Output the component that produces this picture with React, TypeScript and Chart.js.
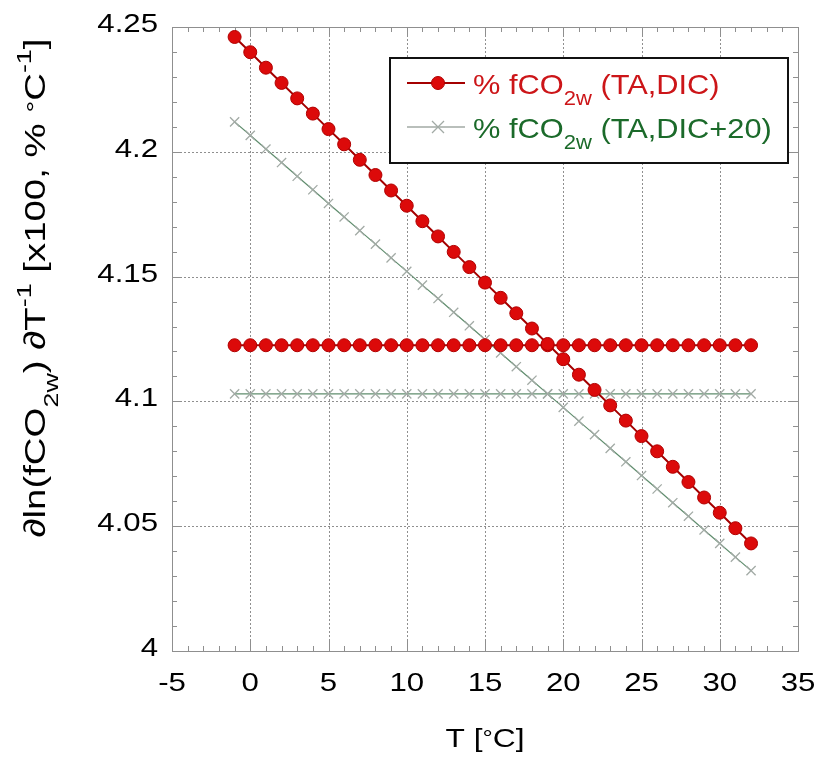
import React, { useEffect, useRef } from 'react';
import { Chart, registerables } from 'chart.js';

Chart.register(...registerables);

// ---- data ----
const temps = [-1, 0, 1, 2, 3, 4, 5, 6, 7, 8, 9, 10, 11, 12, 13, 14, 15, 16, 17, 18, 19, 20, 21, 22, 23, 24, 25, 26, 27, 28, 29, 30, 31, 32];

const fco2TaDic = [4.2460, 4.2399, 4.2337, 4.2276, 4.2214, 4.2153, 4.2091, 4.2030, 4.1968, 4.1907, 4.1845, 4.1784, 4.1722, 4.1661, 4.1599, 4.1538, 4.1476, 4.1415, 4.1353, 4.1292, 4.1230, 4.1169, 4.1107, 4.1046, 4.0984, 4.0923, 4.0861, 4.0800, 4.0738, 4.0677, 4.0615, 4.0554, 4.0492, 4.0431];

const fco2TaDicMean = [4.1225, 4.1225, 4.1225, 4.1225, 4.1225, 4.1225, 4.1225, 4.1225, 4.1225, 4.1225, 4.1225, 4.1225, 4.1225, 4.1225, 4.1225, 4.1225, 4.1225, 4.1225, 4.1225, 4.1225, 4.1225, 4.1225, 4.1225, 4.1225, 4.1225, 4.1225, 4.1225, 4.1225, 4.1225, 4.1225, 4.1225, 4.1225, 4.1225, 4.1225];

const fco2TaDic20 = [4.2120, 4.2066, 4.2011, 4.1957, 4.1902, 4.1848, 4.1793, 4.1739, 4.1684, 4.1630, 4.1575, 4.1521, 4.1466, 4.1412, 4.1357, 4.1303, 4.1248, 4.1194, 4.1139, 4.1085, 4.1030, 4.0976, 4.0921, 4.0867, 4.0812, 4.0758, 4.0703, 4.0649, 4.0594, 4.0540, 4.0485, 4.0431, 4.0376, 4.0322];

const fco2TaDic20Mean = [4.1030, 4.1030, 4.1030, 4.1030, 4.1030, 4.1030, 4.1030, 4.1030, 4.1030, 4.1030, 4.1030, 4.1030, 4.1030, 4.1030, 4.1030, 4.1030, 4.1030, 4.1030, 4.1030, 4.1030, 4.1030, 4.1030, 4.1030, 4.1030, 4.1030, 4.1030, 4.1030, 4.1030, 4.1030, 4.1030, 4.1030, 4.1030, 4.1030, 4.1030];

const xTicks = [-5, 0, 5, 10, 15, 20, 25, 30, 35];
const yTicks = [4, 4.05, 4.1, 4.15, 4.2, 4.25];
const xTickLabels = ['-5', '0', '5', '10', '15', '20', '25', '30', '35'];
const yTickLabels = ['4', '4.05', '4.1', '4.15', '4.2', '4.25'];

const FONT = '"Liberation Sans", Arial, Helvetica, sans-serif';
const RED_MARK = '#dc0a0a';
const RED_EDGE = '#b00000';
const RED_LINE = '#a40000';
const RED_TEXT = '#cc1518';
const GREEN_LINE = '#5f8d6d';
const GREEN_MARK = '#a2aaa5';
const GREEN_TEXT = '#1b6a2a';
const AXIS = '#8f8f8f';

type Seg = { t: string; size: number; dy: number };

function drawRich(
  ctx: CanvasRenderingContext2D,
  segs: Seg[],
  x: number,
  y: number,
  align: 'left' | 'center' | 'right',
  color: string,
  sx: number,
) {
  ctx.save();
  ctx.fillStyle = color;
  ctx.textBaseline = 'alphabetic';
  ctx.textAlign = 'left';
  let total = 0;
  const widths = segs.map((s) => {
    ctx.font = `${s.size}px ${FONT}`;
    const w = ctx.measureText(s.t).width;
    total += w;
    return w;
  });
  ctx.translate(x, y);
  ctx.scale(sx, 1);
  let cx = align === 'center' ? -total / 2 : align === 'right' ? -total : 0;
  segs.forEach((s, i) => {
    ctx.font = `${s.size}px ${FONT}`;
    ctx.fillText(s.t, cx, s.dy);
    cx += widths[i];
  });
  ctx.restore();
}

const framePlugin = {
  id: 'frame',
  beforeDatasetsDraw(chart: any) {
    const { ctx, chartArea } = chart;
    const xs = chart.scales.x;
    const ys = chart.scales.y;
    const { left, right, top, bottom } = chartArea;
    ctx.save();
    // dotted grid
    ctx.strokeStyle = '#8f8f8f';
    ctx.lineWidth = 1;
    ctx.setLineDash([2, 2]);
    xTicks.forEach((v) => {
      if (v === xTicks[0] || v === xTicks[xTicks.length - 1]) return;
      const px = Math.round(xs.getPixelForValue(v)) + 0.5;
      ctx.beginPath();
      ctx.moveTo(px, top);
      ctx.lineTo(px, bottom);
      ctx.stroke();
    });
    yTicks.forEach((v) => {
      if (v === yTicks[0] || v === yTicks[yTicks.length - 1]) return;
      const py = Math.round(ys.getPixelForValue(v)) + 0.5;
      ctx.beginPath();
      ctx.moveTo(left, py);
      ctx.lineTo(right, py);
      ctx.stroke();
    });
    ctx.setLineDash([]);
    // ticks
    ctx.strokeStyle = AXIS;
    ctx.lineWidth = 1;
    for (let i = -5; i <= 35; i++) {
      const major = i % 5 === 0;
      const len = major ? 10 : 5;
      const px = Math.round(xs.getPixelForValue(i)) + 0.5;
      ctx.beginPath();
      ctx.moveTo(px, bottom);
      ctx.lineTo(px, bottom - len);
      ctx.moveTo(px, top);
      ctx.lineTo(px, top + len);
      ctx.stroke();
    }
    for (let i = 0; i <= 25; i++) {
      const major = i % 5 === 0;
      const len = major ? 10 : 5;
      const py = Math.round(ys.getPixelForValue(4 + i * 0.01)) + 0.5;
      ctx.beginPath();
      ctx.moveTo(left, py);
      ctx.lineTo(left + len, py);
      ctx.moveTo(right, py);
      ctx.lineTo(right - len, py);
      ctx.stroke();
    }
    // frame
    ctx.strokeRect(Math.round(left) + 0.5, Math.round(top) + 0.5, Math.round(right - left), Math.round(bottom - top));
    ctx.restore();

    // tick labels
    xTicks.forEach((v, i) => {
      drawRich(ctx, [{ t: xTickLabels[i], size: 26, dy: 0 }], xs.getPixelForValue(v), 691, 'center', '#000', 1.2);
    });
    yTicks.forEach((v, i) => {
      drawRich(ctx, [{ t: yTickLabels[i], size: 26, dy: 0 }], 158, ys.getPixelForValue(v) + 5, 'right', '#000', 1.2);
    });
  },
  afterDatasetsDraw(chart: any) {
    const { ctx } = chart;
    ctx.save();
    // legend box
    const bx = 390, by = 58, bw = 398, bh = 105;
    ctx.fillStyle = '#ffffff';
    ctx.fillRect(bx, by, bw, bh);
    ctx.strokeStyle = '#111';
    ctx.lineWidth = 2;
    ctx.strokeRect(bx, by, bw, bh);
    // row 1
    const r1 = 83;
    ctx.strokeStyle = RED_LINE;
    ctx.lineWidth = 2;
    ctx.beginPath();
    ctx.moveTo(407, r1);
    ctx.lineTo(465, r1);
    ctx.stroke();
    ctx.fillStyle = RED_MARK;
    ctx.strokeStyle = RED_EDGE;
    ctx.lineWidth = 1;
    ctx.beginPath();
    ctx.arc(438, r1, 6.5, 0, Math.PI * 2);
    ctx.fill();
    ctx.stroke();
    drawRich(ctx, [
      { t: '% fCO', size: 28, dy: 0 },
      { t: '2w', size: 20, dy: 11 },
      { t: ' (TA,DIC)', size: 28, dy: 0 },
    ], 473, 94, 'left', RED_TEXT, 1.1);
    // row 2
    const r2 = 127;
    ctx.strokeStyle = GREEN_MARK;
    ctx.lineWidth = 1.5;
    ctx.beginPath();
    ctx.moveTo(407, r2);
    ctx.lineTo(465, r2);
    ctx.stroke();
    ctx.strokeStyle = GREEN_MARK;
    ctx.lineWidth = 1.3;
    ctx.beginPath();
    ctx.moveTo(432, r2 - 6);
    ctx.lineTo(444, r2 + 6);
    ctx.moveTo(432, r2 + 6);
    ctx.lineTo(444, r2 - 6);
    ctx.stroke();
    drawRich(ctx, [
      { t: '% fCO', size: 28, dy: 0 },
      { t: '2w', size: 20, dy: 11 },
      { t: ' (TA,DIC+20)', size: 28, dy: 0 },
    ], 473, 138, 'left', GREEN_TEXT, 1.1);
    ctx.restore();
  },
  afterDraw(chart: any) {
    const { ctx, chartArea } = chart;
    // x title
    drawRich(ctx, [
      { t: 'T [', size: 26, dy: 0 },
      { t: '°', size: 21, dy: -2 },
      { t: 'C]', size: 26, dy: 0 },
    ], (chartArea.left + chartArea.right) / 2, 747, 'center', '#000', 1.22);
    // y title
    ctx.save();
    ctx.translate(45, 288);
    ctx.rotate(-Math.PI / 2);
    drawRich(ctx, [
      { t: '∂ln(fCO', size: 30, dy: 0 },
      { t: '2w', size: 21, dy: 13 },
      { t: ') ∂T', size: 30, dy: 0 },
      { t: '-1', size: 21, dy: -14 },
      { t: ' [x100, % ', size: 30, dy: 0 },
      { t: '°', size: 23, dy: -2 },
      { t: 'C', size: 30, dy: 0 },
      { t: '-1', size: 21, dy: -14 },
      { t: ']', size: 30, dy: 0 },
    ], 0, 0, 'center', '#000', 1.28);
    ctx.restore();
  },
};

export default function App() {
  const ref = useRef<HTMLCanvasElement>(null);
  useEffect(() => {
    const canvas = ref.current;
    if (!canvas) return;
    const pts = (ys: number[]) => temps.map((x, i) => ({ x, y: ys[i] }));
    const chart = new Chart(canvas, {
      type: 'scatter',
      data: {
        datasets: [
          {
            label: '% fCO2w (TA,DIC)',
            data: pts(fco2TaDic),
            showLine: true,
            borderColor: RED_LINE,
            borderWidth: 2,
            pointRadius: 6.5,
            pointBackgroundColor: RED_MARK,
            pointBorderColor: RED_EDGE,
            pointBorderWidth: 1,
          },
          {
            label: '% fCO2w (TA,DIC) mean',
            data: pts(fco2TaDicMean),
            showLine: true,
            borderColor: RED_LINE,
            borderWidth: 2,
            pointRadius: 6.5,
            pointBackgroundColor: RED_MARK,
            pointBorderColor: RED_EDGE,
            pointBorderWidth: 1,
          },
          {
            label: '% fCO2w (TA,DIC+20)',
            data: pts(fco2TaDic20),
            showLine: true,
            borderColor: GREEN_LINE,
            borderWidth: 1.2,
            pointStyle: 'crossRot',
            pointRadius: 6.5,
            pointBorderColor: GREEN_MARK,
            pointBorderWidth: 1.3,
          },
          {
            label: '% fCO2w (TA,DIC+20) mean',
            data: pts(fco2TaDic20Mean),
            showLine: true,
            borderColor: GREEN_LINE,
            borderWidth: 1.2,
            pointStyle: 'crossRot',
            pointRadius: 6.5,
            pointBorderColor: GREEN_MARK,
            pointBorderWidth: 1.3,
          },
        ],
      },
      options: {
        responsive: false,
        animation: false,
        devicePixelRatio: 1,
        layout: { padding: { left: 0, right: 19, top: 27, bottom: 0 } },
        plugins: { legend: { display: false }, tooltip: { enabled: false } },
        scales: {
          x: {
            type: 'linear',
            min: -5,
            max: 35,
            afterBuildTicks: (s: any) => {
              s.ticks = xTicks.map((v) => ({ value: v }));
            },
            afterFit: (s: any) => {
              s.height = 108;
            },
            grid: { display: false, drawTicks: false },
            border: { display: false },
            ticks: { display: false },
          },
          y: {
            type: 'linear',
            min: 4,
            max: 4.25,
            afterBuildTicks: (s: any) => {
              s.ticks = yTicks.map((v) => ({ value: v }));
            },
            afterFit: (s: any) => {
              s.width = 172;
            },
            grid: { display: false, drawTicks: false },
            border: { display: false },
            ticks: { display: false },
          },
        },
      },
      plugins: [framePlugin],
    });
    return () => chart.destroy();
  }, []);
  return (
    <div style={{ position: 'fixed', left: 0, top: 0, width: 817, height: 759, background: '#fff' }}>
      <canvas ref={ref} width={817} height={759} style={{ display: 'block' }} />
    </div>
  );
}
